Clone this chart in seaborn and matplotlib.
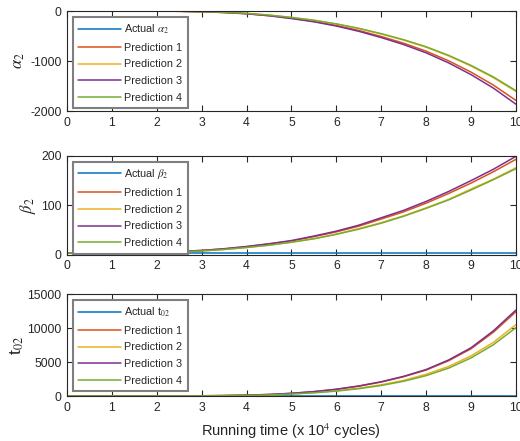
import numpy as np
import pandas as pd
import matplotlib
matplotlib.use("Agg")
import matplotlib.pyplot as plt
import seaborn as sns

# ---- data ----
x = [0, 0.5, 1, 1.5, 2, 2.5, 3, 3.5, 4, 4.5, 5, 5.5, 6, 6.5, 7, 7.5, 8, 8.5, 9, 9.5, 10]

alpha_actual = [0] * 21
alpha_p1 = [0, 0, 0, 0, -1, -5, -14, -29, -53, -91, -144, -206, -288, -389, -509, -643, -802, -994, -1220, -1480, -1785]
alpha_p2 = [0, 0, 0, 0, -1, -4, -13, -26, -48, -82, -130, -186, -260, -350, -458, -580, -722, -895, -1098, -1332, -1605]
alpha_p3 = [0, 0, 0, 0, -1, -5, -15, -30, -55, -95, -150, -215, -300, -405, -530, -670, -835, -1035, -1270, -1540, -1860]
alpha_p4 = [0, 0, 0, 0, -1, -4, -13, -26, -47, -81, -128, -184, -257, -346, -453, -573, -714, -885, -1086, -1317, -1590]

beta_actual = [4] * 21
beta_p1 = [4, 4, 4, 4.5, 5, 7, 9, 12, 16.5, 22, 28, 37, 46.5, 58, 72.5, 87, 104.5, 124, 145, 168, 193]
beta_p2 = [4, 4, 4, 4.3, 5, 6.5, 8, 11, 15, 20, 26, 33, 42, 53, 65, 79, 95, 112, 133, 153, 176]
beta_p3 = [4, 4, 4, 4.5, 5, 7, 9, 12.5, 17, 22.5, 29, 38, 48, 60, 75, 90, 108, 128, 150, 173, 199]
beta_p4 = [4, 4, 4, 4.3, 5, 6.5, 8, 11, 15, 19.5, 25.5, 32.5, 41.5, 52, 64, 78, 94, 111, 131, 152, 174]

t_actual = [0] * 21
t_p1 = [0, 0, 0, 0, 5, 15, 34, 68, 122, 225, 392, 637, 980, 1450, 2060, 2840, 3820, 5190, 6950, 9400, 12400]
t_p2 = [0, 0, 0, 0, 3, 10, 22, 45, 90, 170, 310, 500, 780, 1150, 1650, 2300, 3200, 4350, 5900, 7900, 10500]
t_p3 = [0, 0, 0, 0, 5, 15, 35, 70, 125, 230, 400, 650, 1000, 1480, 2100, 2900, 3900, 5300, 7100, 9600, 12650]
t_p4 = [0, 0, 0, 0, 3, 10, 21, 43, 85, 160, 290, 470, 720, 1080, 1550, 2170, 3000, 4100, 5600, 7550, 10050]

pred_names = ["Prediction 1", "Prediction 2", "Prediction 3", "Prediction 4"]
colors = ["#0072BD", "#D95319", "#EDB120", "#7E2F8E", "#77AC30"]

panels = [
    (r"Actual $\alpha_2$", [alpha_actual, alpha_p1, alpha_p2, alpha_p3, alpha_p4],
     r"$\alpha_2$", (-2000, 0), [-2000, -1000, 0]),
    (r"Actual $\beta_2$", [beta_actual, beta_p1, beta_p2, beta_p3, beta_p4],
     r"$\beta_2$", (0, 200), [0, 100, 200]),
    (r"Actual t$_{02}$", [t_actual, t_p1, t_p2, t_p3, t_p4],
     r"t$_{02}$", (0, 15000), [0, 5000, 10000, 15000]),
]

sns.set_style("ticks")
plt.rcParams["font.family"] = ["Liberation Sans", "DejaVu Sans"]
plt.rcParams["mathtext.fontset"] = "stix"
plt.rcParams["axes.unicode_minus"] = False

fig = plt.figure(figsize=(5.2, 4.41), dpi=100)
rects = [
    [0.129, 0.748, 0.863, 0.227],
    [0.129, 0.422, 0.863, 0.2245],
    [0.129, 0.102, 0.863, 0.231],
]

for rect, (actual_label, series, ylab, ylim, yticks) in zip(rects, panels):
    ax = fig.add_axes(rect)
    labels = [actual_label] + pred_names
    frames = []
    for lab, vals in zip(labels, series):
        frames.append(pd.DataFrame({"x": x, "y": vals, "series": lab}))
    df = pd.concat(frames, ignore_index=True)
    sns.lineplot(data=df, x="x", y="y", hue="series", hue_order=labels,
                 palette=dict(zip(labels, colors)), linewidth=1.1, ax=ax,
                 legend=True)
    ax.set_xlim(0, 10)
    ax.set_ylim(*ylim)
    ax.set_xticks(range(0, 11))
    ax.set_yticks(yticks)
    ax.set_xlabel("")
    if ylab.startswith("t"):
        ax.set_ylabel(ylab, fontsize=12.5, color="#262626", labelpad=1)
    else:
        ax.set_ylabel(ylab, fontsize=12, color="#262626", labelpad=2)
    for s in ax.spines.values():
        s.set_visible(True)
        s.set_color("#262626")
        s.set_linewidth(0.8)
    ax.tick_params(direction="in", top=True, right=True, length=4.5, width=0.8,
                   labelsize=8.8, colors="#262626", pad=4)
    leg = ax.legend(loc="upper left", fontsize=7.8, handlelength=3.9,
                    frameon=True, fancybox=False, borderaxespad=0.55,
                    labelspacing=0.62, handletextpad=0.35, borderpad=0.5)
    leg.get_frame().set_edgecolor("#7f7f7f")
    leg.get_frame().set_linewidth(1.5)
    leg.get_frame().set_alpha(1)

fig.text(0.56, 0.012, r"Running time (x 10$^4$ cycles)", ha="center", va="baseline",
         fontsize=10.5, color="#262626")

fig.savefig("out.png", dpi=100)
